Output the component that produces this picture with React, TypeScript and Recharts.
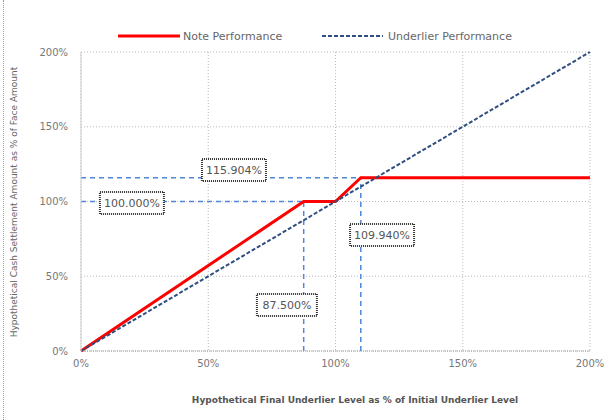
import {
  LineChart,
  Line,
  XAxis,
  YAxis,
  CartesianGrid,
  ReferenceLine,
  ReferenceDot,
} from 'recharts'

const xTicks = [0, 50, 100, 150, 200]
const yTicks = [0, 50, 100, 150, 200]

// note payoff: x = underlier level %, y = settlement %
const noteX = [0, 87.5, 100, 109.94, 200]
const noteY = [0, 100, 100, 115.904, 115.904]

const underlierX = [0, 200]
const underlierY = [0, 200]

// callout boxes: label text and where the box sits (data coords)
const boxLabels = ['115.904%', '100.000%', '109.940%', '87.500%']
const boxX = [60.1, 20.0, 118.3, 80.9]
const boxY = [121.1, 99.0, 77.6, 30.8]

const noteData = noteX.map((x, i) => ({ x, y: noteY[i] }))
const underlierData = underlierX.map((x, i) => ({ x, y: underlierY[i] }))

const pct = (v: number) => `${v}%`

const BoxShape = (text: string, w: number) => (props: any) => {
  const { cx, cy } = props
  return (
    <g>
      <rect
        x={cx - w / 2}
        y={cy - 11}
        width={w}
        height={22}
        fill="#fff"
        stroke="#333"
        strokeWidth={2}
        strokeDasharray="1 1"
      />
      <text
        x={cx}
        y={cy + 4}
        textAnchor="middle"
        fontSize={11}
        fill="#555"
        fontFamily="DejaVu Sans, sans-serif"
      >
        {text}
      </text>
    </g>
  )
}

const refColor = '#4f86d6'

export default function App() {
  return (
    <div
      style={{
        position: 'absolute',
        left: 0,
        top: 0,
        width: 614,
        height: 420,
        background: '#fff',
        fontFamily: 'DejaVu Sans, sans-serif',
      }}
    >
      <div
        style={{
          position: 'absolute',
          left: 3,
          top: 0,
          height: 420,
          borderLeft: '1px dotted #999',
        }}
      />
      {/* legend */}
      <svg width={614} height={50} style={{ position: 'absolute', left: 0, top: 14 }}>
        <line x1={118} y1={22} x2={180} y2={22} stroke="#ff0000" strokeWidth={3} />
        <text x={183} y={26} fontSize={11} fill="#666">Note Performance</text>
        <line x1={322} y1={22} x2={383} y2={22} stroke="#2f4f80" strokeWidth={2} strokeDasharray="4 2" />
        <text x={388} y={26} fontSize={11} fill="#666">Underlier Performance</text>
      </svg>

      <LineChart
        width={614}
        height={420}
        margin={{ top: 52, right: 24, bottom: 39, left: 21 }}
      >
        <CartesianGrid
          stroke="#bbb"
          strokeDasharray="1 2"
          verticalValues={xTicks}
          horizontalValues={yTicks}
        />
        <XAxis
          type="number"
          dataKey="x"
          domain={[0, 200]}
          ticks={xTicks}
          tickFormatter={pct}
          tickSize={0}
          tickMargin={9}
          height={30}
          stroke="#999"
          strokeDasharray="1 1"
          tick={{ fontSize: 10, fill: '#777', fontFamily: 'DejaVu Sans, sans-serif' }}
          allowDuplicatedCategory={false}
        />
        <YAxis
          type="number"
          domain={[0, 200]}
          ticks={yTicks}
          tickFormatter={pct}
          tickSize={0}
          tickMargin={13}
          width={60}
          stroke="#ccc"
          tick={{ fontSize: 10, fill: '#777', fontFamily: 'DejaVu Sans, sans-serif' }}
        />

        <ReferenceLine
          segment={[{ x: 0, y: 115.904 }, { x: 109.94, y: 115.904 }]}
          stroke={refColor}
          strokeWidth={1.5}
          strokeDasharray="5 4"
        />
        <ReferenceLine
          segment={[{ x: 0, y: 100 }, { x: 87.5, y: 100 }]}
          stroke={refColor}
          strokeWidth={1.5}
          strokeDasharray="5 4"
        />
        <ReferenceLine
          segment={[{ x: 87.5, y: 0 }, { x: 87.5, y: 100 }]}
          stroke={refColor}
          strokeWidth={1.5}
          strokeDasharray="5 4"
        />
        <ReferenceLine
          segment={[{ x: 109.94, y: 0 }, { x: 109.94, y: 115.904 }]}
          stroke={refColor}
          strokeWidth={1.5}
          strokeDasharray="5 4"
        />

        <Line
          data={noteData}
          dataKey="y"
          type="linear"
          stroke="#ff0000"
          strokeWidth={3}
          dot={false}
          isAnimationActive={false}
        />
        <Line
          data={underlierData}
          dataKey="y"
          type="linear"
          stroke="#2f4f80"
          strokeWidth={2}
          strokeDasharray="4 2"
          dot={false}
          isAnimationActive={false}
        />

        {boxLabels.map((t, i) => (
          <ReferenceDot
            key={t}
            x={boxX[i]}
            y={boxY[i]}
            r={1}
            shape={BoxShape(t, t.length > 7 ? 64 : 60)}
          />
        ))}
      </LineChart>

      {/* axis titles */}
      <div
        style={{
          position: 'absolute',
          left: 170,
          width: 370,
          top: 395,
          textAlign: 'center',
          fontSize: 9,
          fontWeight: 'bold',
          color: '#555',
          whiteSpace: 'nowrap',
        }}
      >
        Hypothetical Final Underlier Level as % of Initial Underlier Level
      </div>
      <div
        style={{
          position: 'absolute',
          left: 14 - 170,
          width: 340,
          top: 203 - 6,
          textAlign: 'center',
          fontSize: 9,
          color: '#666',
          whiteSpace: 'nowrap',
          transform: 'rotate(-90deg)',
        }}
      >
        Hypothetical Cash Settlement Amount as % of Face Amount
      </div>
    </div>
  )
}
